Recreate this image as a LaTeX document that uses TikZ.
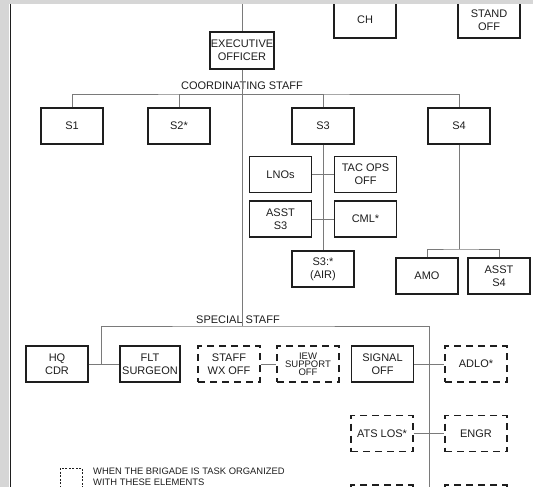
\documentclass[tikz,border=0pt]{standalone}
\usepackage{fontspec}
\setmainfont{Liberation Sans}
\usetikzlibrary{positioning, calc}
\definecolor{inkDark}{HTML}{1E1E1E}
\definecolor{linkGray}{HTML}{7A7A7A}
\definecolor{scanGray}{HTML}{D6D6D6}

\begin{document}
\begin{tikzpicture}[
  x=1pt, y=-1pt,
  font=\fontsize{11}{13}\selectfont,
  every node/.style={align=center, text=inkDark},
  unit/.style={rectangle, draw=inkDark, line width=1.4pt, fill=white,
               minimum width=62pt, minimum height=36pt, inner sep=1pt},
  attached/.style={unit, dash pattern=on 7pt off 5pt},
  link/.style={draw=linkGray, line width=0.9pt},
  header/.style={inner sep=0pt, anchor=base},
]

\useasboundingbox (0,0) rectangle (533,487);
\clip (0,0) rectangle (533,487);

% command line
\node[unit] (ch) at (365,20) {CH};
\node[unit] (standoff) at (489,20) {STAND\\OFF};
\node[unit, minimum height=37pt] (xo) at (242,50.5) {EXECUTIVE\\OFFICER};

% coordinating staff
\node[header] (coord) at (242,89) {COORDINATING STAFF};
\node[unit] (s1) at (72,126) {S1};
\node[unit] (s2) at (179,126) {S2*};
\node[unit] (s3) at (323,126) {S3};
\node[unit] (s4) at (459,126) {S4};

\node[unit] (lno) at (280.5,174.5) {LNOs};
\node[unit] (tacops) at (365.5,174.5) {TAC OPS\\OFF};
\node[unit] (asst3) at (280.5,219) {ASST\\S3};
\node[unit] (cml) at (365.5,219) {CML*};
\node[unit] (s3air) at (323,269) {S3:*\\(AIR)};

\node[unit] (amo) at (427,276) {AMO};
\node[unit] (asst4) at (499,276) {ASST\\S4};

% special staff
\node[header] (special) at (238,323) {SPECIAL STAFF};
\node[unit] (hqcdr) at (57,364) {HQ\\CDR};
\node[unit, minimum width=60pt] (flt) at (150,364) {FLT\\SURGEON};
\node[attached] (wx) at (229,364) {STAFF\\WX OFF};
\node[attached, font=\fontsize{9.5}{8}\selectfont] (iew) at (308,364) {IEW\\SUPPORT\\OFF};
\node[unit] (signal) at (382.5,364) {SIGNAL\\OFF};
\node[attached] (adlo) at (476,364) {ADLO*};
\node[attached] (atslos) at (382,433.5) {ATS LOS*};
\node[attached] (engr) at (476,433.5) {ENGR};
\node[attached] (nextl) at (382,503) {};
\node[attached] (nextr) at (476,503) {};

% legend
\node[attached, minimum width=22pt, minimum height=26pt, line width=0.8pt,
      dash pattern=on 2pt off 1.5pt] (key) at (71,481) {};
\node[header, anchor=base west, font=\fontsize{9.4}{12}\selectfont] (keyline1)
  at (93,474) {WHEN THE BRIGADE IS TASK ORGANIZED};
\node[header, anchor=base west, font=\fontsize{9.4}{12}\selectfont] (keyline2)
  at (93,485) {WITH THESE ELEMENTS};

\coordinate (top) at (242,0);
\coordinate (cbar) at (242,94);
\coordinate (sbar) at (242,326);
\coordinate (s4bar) at (459,249);
\coordinate (sleft) at (101,364);
\coordinate (sright) at (429,487);

\draw[link] (top) -- (xo.north);
\draw[link] (xo.south) -- (sbar);
\draw[link] (s1.north) |- (cbar) -| (s4.north);
\draw[link] (s2.north) |- (cbar);
\draw[link] (s3.north) |- (cbar);
\draw[link] (s3.south) -- (s3air.north);
\draw[link] (lno.east) -- (tacops.west);
\draw[link] (asst3.east) -- (cml.west);
\draw[link] (s4.south) -- (s4bar);
\draw[link] (amo.north) |- (s4bar) -| (asst4.north);
\draw[link] (sleft) |- (sbar) -| (sright);
\draw[link] (hqcdr.east) -- (flt.west);
\draw[link] (wx.east) -- (iew.west);
\draw[link] (signal.east) -- (adlo.west);
\draw[link] (atslos.east) -- (engr.west);

% scan margins
\fill[scanGray] (0,0) rectangle (9,487);
\fill[scanGray] (0,0) rectangle (533,4);
\draw[inkDark, line width=1.6pt] (10.5,4) -- (10.5,487);

\end{tikzpicture}
\end{document}
